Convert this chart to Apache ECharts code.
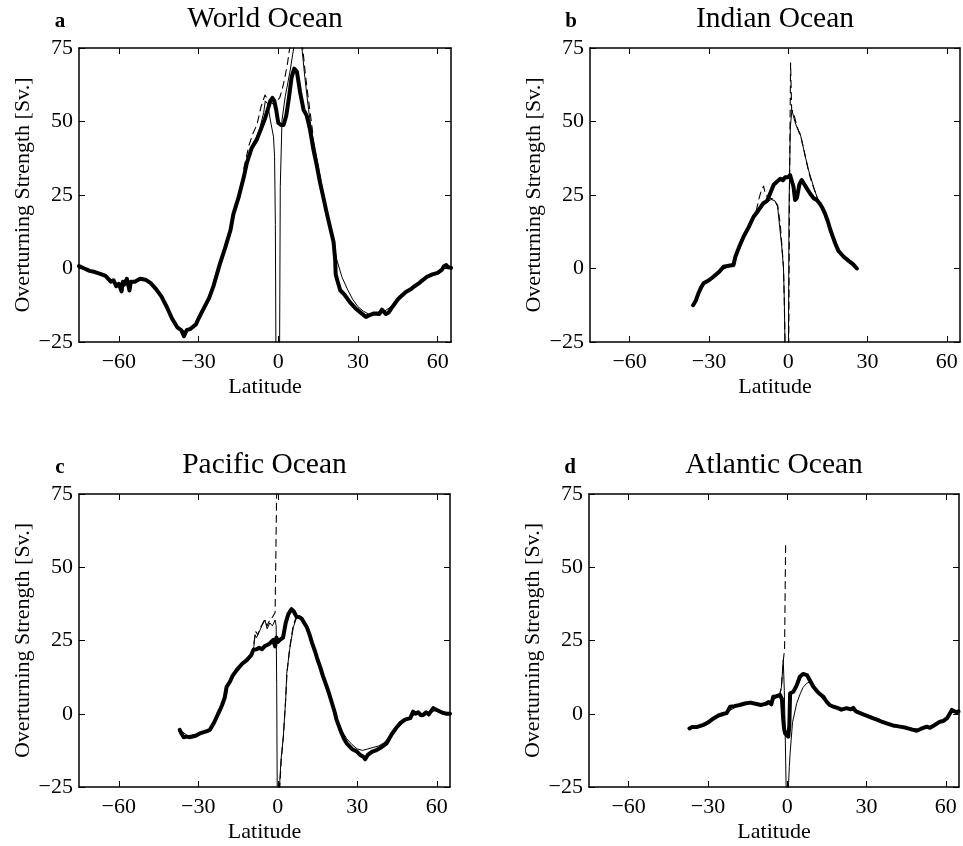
<!DOCTYPE html>
<html>
<head>
<meta charset="utf-8">
<script src="https://cdn.jsdelivr.net/npm/echarts@6/dist/echarts.min.js"></script>
<style>
html,body{margin:0;padding:0;background:#fff;}
#chart{width:963px;height:846px;}
</style>
</head>
<body>
<div id="chart"></div>
<script>
// ---------- Data ----------
const xTicks = [-60, -30, 0, 30, 60];
const yTicks = [-25, 0, 25, 50, 75];
const panelTitles = ['World Ocean', 'Indian Ocean', 'Pacific Ocean', 'Atlantic Ocean'];
const panelLetters = ['a', 'b', 'c', 'd'];

// World Ocean
const worldThick = [[-75,0.8],[-73,0],[-71,-0.8],[-69,-1.2],[-67,-1.8],[-65,-2.5],[-64,-3.5],[-63,-4.5],[-62,-4],[-61,-6],[-60,-5.2],[-59,-7.8],[-58.5,-4.5],[-58,-5.5],[-57,-3.5],[-56,-7.5],[-55.5,-4.5],[-54,-4.5],[-52,-3.5],[-50,-3.8],[-48,-5],[-46,-7],[-44,-9.5],[-42,-13],[-40,-17],[-38,-20],[-36.5,-21],[-35.5,-23],[-34.5,-21],[-33,-20.5],[-31,-19],[-30,-17],[-28,-13.5],[-26,-10],[-24.4,-6],[-22,1.5],[-20,7],[-18,13],[-16.9,18.5],[-15,24],[-13,31],[-11.8,36],[-10,41],[-8,44],[-6.5,47.5],[-5,51],[-4,54],[-3,57],[-2.2,58],[-1.5,57],[-0.8,54],[0,49.5],[1,48.8],[2,48.8],[3,52],[4,58],[5,65],[6,68],[7,67],[8.2,60],[9.5,54],[10.7,52],[12,47],[13.2,40.5],[14.5,35],[15.7,29.3],[17,24],[18.2,19],[19.5,14],[20.8,9],[21.4,3],[21.6,-2],[22.2,-4],[23.3,-7.4],[25,-9],[27,-11.5],[29,-13.5],[31,-15],[33,-16.5],[34,-16],[36,-15.3],[38,-15.5],[39,-14],[40.5,-15.5],[41.5,-15],[43,-13],[45,-10.5],[46,-9.6],[48,-8],[50,-7],[51,-6.2],[53,-5],[54,-4.2],[56,-2.8],[58,-2],[60,-1.5],[61.5,-0.5],[62.4,0.8],[63.2,1.2],[64,0.4],[65,0.2]];
const worldThinS = [[-75,0.8],[-70,-1],[-65,-2.5],[-60,-5.5],[-55,-4.5],[-50,-3.8],[-46,-7],[-42,-13],[-38,-20],[-35,-21.5],[-32,-20],[-30,-17],[-26,-10],[-22,1.5],[-18,13],[-14,28],[-11,38],[-9,43],[-7,47.5],[-5.5,53],[-4.9,57],[-4,56],[-3,50.5],[-1.8,44.8],[-1.4,38],[-1.1,15],[-0.9,-26]];
const worldThinN = [[0.5,-26],[0.75,27.8],[1.4,50.5],[2.6,58.4],[4.5,67.5],[5.8,75],[7.3,81],[8.9,75],[10,65],[11.4,54],[12.5,47],[14,40],[16,30],[18,20.5],[20,12],[22,3],[24,-3],[26,-7],[28,-10.5],[30,-13],[32,-14.5],[34,-15.5],[36,-15],[40,-14.5],[44,-12],[48,-8],[52,-5.5],[56,-2.8],[60,-1.5],[63,0.5],[65,0.3]];
const worldDash = [[-13,34],[-11,42],[-9.5,46],[-8,49],[-6.5,55],[-5,59],[-4,57.5],[-2,56],[-0.5,57],[0.5,58],[1.5,61],[2.5,65],[3.5,70],[4.3,75],[5.5,80],[7.3,83],[9.2,75],[10.2,66],[11,60],[12,53],[13,46]];

// Indian Ocean
const indianThick = [[-36,-12.5],[-35,-11],[-34,-8.5],[-33,-6.5],[-32,-5],[-30,-4],[-28.3,-2.8],[-26,-1],[-24.5,0.6],[-22,1],[-20.7,1.2],[-20,4],[-18.5,7.5],[-16.9,10.8],[-15,14],[-13.1,17.6],[-11.5,19.5],[-9.4,22.2],[-8,23],[-6.8,25.6],[-5.5,28.5],[-4.3,29.5],[-3,30.5],[-2,30],[-1.2,31],[0,31],[0.7,31.8],[1.4,31.5],[2,27.8],[2.6,23.3],[3.3,24],[4.2,28.5],[5.1,30.1],[6.2,28.5],[7.2,27],[8.2,25.6],[9.5,24],[10.8,23.3],[12,22],[13,20.5],[14,18.5],[15,16],[16,13],[17,10.5],[17.8,8.5],[19,6],[21,4],[23,2.5],[24.5,1.5],[26,0]];
const indianThinS = [[-36,-12.5],[-33,-6.5],[-30,-4],[-26,-1],[-22,1],[-20.5,1.5],[-20,4],[-17,10],[-14,16],[-12,19],[-10,21],[-8,22.5],[-6.5,23.5],[-5,23],[-4,21],[-3.1,13],[-2.5,8],[-1.8,0.6],[-1.5,-10],[-1.2,-26]];
const indianThinN = [[0.1,-26],[0.3,20],[0.8,48],[1.4,53.9],[2.5,50],[3.5,47.5],[4.5,46],[6,40],[7.5,34],[9.6,27.8],[11,24],[12,22],[14,18.5],[16,13],[18,8],[20,5],[23,2.5],[26,0]];
const indianDash = [[-14,16],[-12,20],[-11,24],[-10,27],[-9.3,28],[-8.6,25],[-7,24],[-5.5,23.5],[-4,21.5],[-3,15],[-2.4,8],[-1.8,0.5],[-1.5,-10],[-1.2,-26]];
const indianDashN = [[0.2,-26],[0.5,30],[0.9,70],[1.3,54],[2,53],[3,49.5],[4,46.5],[5,44],[6,40],[7,36],[8,32],[9,29],[10,26.5],[11,24],[12,22]];

// Pacific Ocean
const pacificThick = [[-37,-5.5],[-36.5,-6.5],[-35.5,-8],[-34.4,-7.8],[-33,-8],[-31,-7.5],[-29.4,-6.7],[-27,-6],[-25.6,-5.5],[-24,-3],[-22.5,0],[-21.8,1.3],[-21,3],[-20,5.5],[-19.3,9.2],[-18,11],[-17,13],[-15.5,14.9],[-13.5,17],[-11.7,18.3],[-10,20],[-9.2,21.8],[-8,22],[-7,22.5],[-6,22],[-5,23],[-4,23.5],[-3,24],[-1.7,25.2],[-1,23],[-0.5,26],[0,24.5],[0.8,25.2],[2,26],[3,31],[4,34],[5.2,35.7],[6,35],[7.1,33.1],[8,33],[9,32.5],[10,31],[11,29.5],[12,27],[13,24],[14,21.5],[15,18.5],[16,16],[17,13],[18.5,9.2],[19.5,6.5],[20.5,3.5],[21.5,0.5],[22.2,-2.1],[23,-4],[24,-6.5],[25,-8.5],[26,-10.1],[28,-12],[30,-13],[31,-14],[32.3,-14.7],[33,-15.5],[34,-14],[35.5,-13],[37.3,-12.4],[39,-11.5],[41.1,-10.1],[43,-7],[45,-4.5],[46.1,-3.3],[48,-2],[50,-1.5],[51.1,0.7],[52,0],[53,0.5],[54,-0.5],[54.9,-0.4],[56,0.5],[57,-0.2],[58.7,1.9],[60,1.3],[62,0.4],[63.7,0],[65,0]];
const pacificThinS = [[-37,-5.5],[-34,-7.5],[-30,-7],[-26,-5.5],[-22,1],[-19,9.5],[-16,14.5],[-13,17.5],[-10,20],[-9,23],[-8.6,27],[-8,26],[-7,28],[-6,30],[-4.8,32],[-4,29],[-3,31],[-2,30],[-1,32],[-0.6,30],[-0.4,10],[-0.2,-26]];
const pacificThinN = [[0.6,-26],[1.2,-16],[2.1,-7.8],[3,5],[3.4,13.8],[4.5,22],[5.9,29.6],[7,32.5],[8,33.5],[9,32.5],[10,31],[12,27],[14,21.5],[16,16],[18,10.5],[20,5],[22,-1],[24,-5.5],[26,-8.5],[28,-10.5],[30,-12],[32,-12.5],[34,-12],[36,-11.5],[38,-11],[40,-10],[42,-8],[45,-5],[48,-2.5],[52,0],[56,0.2],[60,1.2],[65,0]];
const pacificDashS = [[-10,20],[-9,24],[-8.3,28],[-7.5,27],[-6.5,29.5],[-5,32],[-4,30],[-3,32],[-2,33],[-1,34.5],[-0.7,55],[-0.4,77]];
const pacificDashN = [[0.7,-26],[1.3,-16],[2.2,-7],[3,5],[3.5,14],[4.5,22.5],[5.8,30],[7,33],[8,33.5]];

// Atlantic Ocean
const atlanticThick = [[-37,-5],[-36,-4.5],[-34,-4.5],[-31.7,-3.8],[-30,-3],[-27.9,-1.6],[-26,-0.6],[-24,0],[-22.9,0.2],[-21.6,2.4],[-20,2.6],[-18,3],[-16,3.5],[-14,3.8],[-12,3.4],[-10,3],[-9,3.2],[-8,3.4],[-7,4],[-6,3.2],[-5.3,5.8],[-4,6],[-2.7,6.4],[-2,5],[-1.5,-2.1],[-1.2,-5],[-0.8,-6.7],[0.4,-7.8],[0.8,-4],[1.1,7],[2.3,7.5],[3.5,9.5],[4.8,12.6],[6,13.6],[6.7,13.8],[7.5,13.2],[8.5,11.5],[9.9,9.2],[11,8],[12,7],[13.7,5.8],[15,4],[16,3],[17.5,2.4],[19,2],[20.5,1.4],[22.5,1.9],[24,1.5],[25,2],[26,0.8],[27.6,0.2],[29,-0.3],[30.5,-0.8],[32.6,-1.6],[34,-2],[36,-2.8],[37.6,-3.3],[40,-4],[42.7,-4.4],[45,-4.8],[47.7,-5.5],[49,-5.8],[50.5,-5.2],[52.8,-4.4],[54,-4.8],[55.5,-4],[57.8,-2.7],[59,-2.5],[60.5,-1.5],[61.6,0.2],[62.3,1.3],[63,1],[64,0.5],[64.8,0.8]];
const atlanticThinS = [[-37,-5],[-33,-4.2],[-30,-2.5],[-26,-0.5],[-22,1],[-18,3],[-14,3.6],[-10,3],[-7,3.6],[-5,5],[-3,6],[-2.2,9],[-1.5,18.3],[-1.1,8],[-0.7,-10],[-0.4,-26]];
const atlanticThinN = [[0.4,-26],[0.8,-18],[1.1,-13.5],[2,-3],[3.6,3.6],[5,7],[6,9],[7.4,10.4],[8.5,10.8],[10,9],[11,7.5],[12.5,6],[14,4.5],[16,3],[18,2.2],[20,1.6],[23,1.5],[26,0.8],[30,-0.6],[35,-2.5],[40,-4],[45,-4.8],[50,-5.3],[55,-4.2],[60,-1.8],[62,0.5],[65,0.6]];
const atlanticDash = [[-3,6],[-2.2,9],[-1.5,18],[-1,22],[-0.6,58]];

// ---------- Layout ----------
const grids = [
  {left: 79, top: 48, width: 372, height: 294},
  {left: 590, top: 48, width: 370, height: 294},
  {left: 79, top: 494, width: 371, height: 293},
  {left: 589, top: 494, width: 370, height: 293}
];
const seriesSets = [
  {thick: [worldThick], thin: [worldThinS, worldThinN], dash: [worldDash]},
  {thick: [indianThick], thin: [indianThinS, indianThinN], dash: [indianDash, indianDashN]},
  {thick: [pacificThick], thin: [pacificThinS, pacificThinN], dash: [pacificDashS, pacificDashN]},
  {thick: [atlanticThick], thin: [atlanticThinS, atlanticThinN], dash: [atlanticDash]}
];

const FONT = '"Liberation Serif", "Times New Roman", serif';
const minus = v => String(v).replace('-', '\u2212');
const black = '#000';

const option = {
  animation: false,
  backgroundColor: '#fff',
  grid: grids.map(g => Object.assign({containLabel: false, show: false}, g)),
  xAxis: [],
  yAxis: [],
  series: [],
  graphic: []
};

grids.forEach((g, i) => {
  const tickStyle = {show: true, inside: true, length: 6, lineStyle: {color: black, width: 1}};
  option.xAxis.push({
    gridIndex: i, type: 'value', min: -75, max: 65, position: 'bottom',
    axisLine: {show: true, onZero: false, lineStyle: {color: black, width: 1.5}},
    axisTick: Object.assign({customValues: xTicks}, tickStyle),
    axisLabel: {customValues: xTicks, formatter: minus, color: black, fontFamily: FONT, fontSize: 22, margin: 9},
    splitLine: {show: false},
    name: 'Latitude', nameLocation: 'middle', nameGap: 34,
    nameTextStyle: {color: black, fontFamily: FONT, fontSize: 22}
  });
  option.xAxis.push({
    gridIndex: i, type: 'value', min: -75, max: 65, position: 'top',
    axisLine: {show: true, onZero: false, lineStyle: {color: black, width: 1.5}},
    axisTick: Object.assign({customValues: xTicks}, tickStyle),
    axisLabel: {show: false}, splitLine: {show: false}
  });
  option.yAxis.push({
    gridIndex: i, type: 'value', min: -25, max: 75, interval: 25, position: 'left',
    axisLine: {show: true, onZero: false, lineStyle: {color: black, width: 1.5}},
    axisTick: tickStyle,
    axisLabel: {formatter: minus, color: black, fontFamily: FONT, fontSize: 22, margin: 6},
    splitLine: {show: false},
    name: 'Overturning Strength [Sv.]', nameLocation: 'middle', nameGap: 38,
    nameTextStyle: {color: black, fontFamily: FONT, fontSize: 22}
  });
  option.yAxis.push({
    gridIndex: i, type: 'value', min: -25, max: 75, interval: 25, position: 'right',
    axisLine: {show: true, onZero: false, lineStyle: {color: black, width: 1.5}},
    axisTick: tickStyle,
    axisLabel: {show: false}, splitLine: {show: false}
  });
  const xi = i * 2, yi = i * 2;
  const mk = (data, width, type) => ({
    type: 'line', xAxisIndex: xi, yAxisIndex: yi, data: data,
    showSymbol: false, symbol: 'none', clip: true, silent: true,
    lineStyle: {color: black, width: width, type: type, cap: 'round', join: 'round'}
  });
  seriesSets[i].thin.forEach(d => option.series.push(mk(d, 1, 'solid')));
  seriesSets[i].dash.forEach(d => option.series.push(mk(d, 1.1, [7, 5])));
  seriesSets[i].thick.forEach(d => option.series.push(mk(d, 4, 'solid')));

  const cx = g.left + g.width / 2;
  option.graphic.push({
    type: 'text', x: cx, y: g.top - 29,
    style: {text: panelTitles[i], fill: black, font: '29.5px ' + FONT, align: 'center', verticalAlign: 'middle'}
  });
  option.graphic.push({
    type: 'text', x: g.left - 19, y: g.top - 26,
    style: {text: panelLetters[i], fill: black, font: 'bold 21px ' + FONT, align: 'center', verticalAlign: 'middle'}
  });
});

const chart = echarts.init(document.getElementById('chart'), null, {renderer: 'canvas'});
chart.setOption(option);
</script>
</body>
</html>
